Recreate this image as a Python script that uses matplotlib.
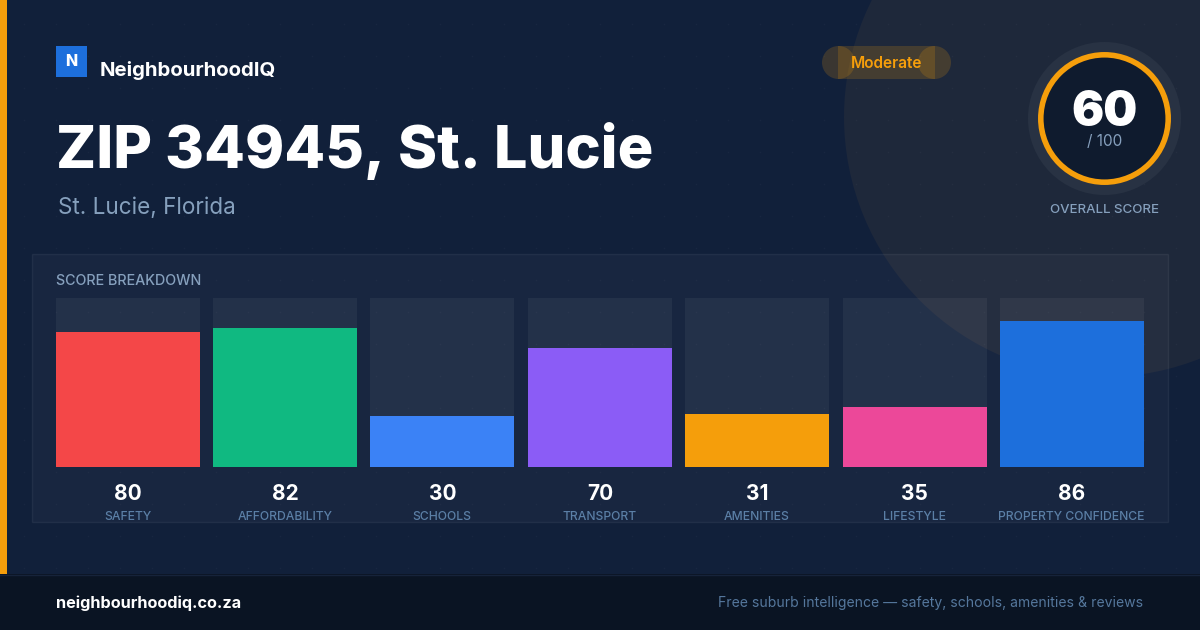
import numpy as np
import matplotlib
matplotlib.use('Agg')
import matplotlib.pyplot as plt
from matplotlib.patches import Circle, Rectangle

categories = ['SAFETY', 'AFFORDABILITY', 'SCHOOLS', 'TRANSPORT', 'AMENITIES', 'LIFESTYLE', 'PROPERTY CONFIDENCE']
scores = [80, 82, 30, 70, 31, 35, 86]
bar_colors = ['#f44748', '#10b981', '#3b82f6', '#8b5cf6', '#f59e0b', '#ec4899', '#1d6fdc']
overall = 60

plt.rcParams['font.family'] = ['Inter', 'DejaVu Sans']

W, H = 1200, 630
muted = '#86a0bd'
fig = plt.figure(figsize=(12, 6.3), dpi=100, facecolor='#11203a')

# pixel canvas, y downwards
bg = fig.add_axes([0, 0, 1, 1])
bg.set_xlim(0, W)
bg.set_ylim(H, 0)
bg.axis('off')

bg.add_patch(Circle((1104, 117), 260, fc='#1e283a', ec='none', zorder=1))

# faint dot grid
gx, gy = np.meshgrid(np.arange(24, W, 32), np.arange(24, H, 32))
bg.scatter(gx.ravel(), gy.ravel(), s=1.5, c='white', alpha=0.03, linewidths=0, zorder=2)

# left stripe and footer
bg.add_patch(Rectangle((0, 0), 7, 574, fc='#f59e0b', ec='none', zorder=3))
bg.add_patch(Rectangle((0, 574), W, 56, fc='#0a1423', ec='none', zorder=3))
bg.plot([0, W], [574.5, 574.5], color='#16233a', lw=1, zorder=4)

# panel
bg.add_patch(Rectangle((32, 254), 1136, 268, fc=(1, 1, 1, 0.03), ec=(1, 1, 1, 0.06), lw=1, zorder=3))

# header
bg.add_patch(Rectangle((56, 46), 31, 31, fc='#1d6fdc', ec='none', zorder=4))
bg.text(71.5, 61, 'N', color='white', fontsize=11.5, fontweight='heavy', ha='center', va='center', zorder=5)
bg.text(100, 70, 'NeighbourhoodIQ', color='white', fontsize=14.65, fontweight='bold', ha='left', va='center', zorder=5)
bg.text(56, 151, 'ZIP 34945, St. Lucie', color='white', fontsize=42.8, fontweight='heavy', ha='left', va='center', zorder=5)
bg.text(58, 208, 'St. Lucie, Florida', color=muted, fontsize=16.2, ha='left', va='center', zorder=5)

# badge, drawn with overlapping translucent parts
badge = (0.96, 0.62, 0.04, 0.18)
bg.add_patch(Circle((838.5, 62.5), 16.5, fc=badge, ec='none', zorder=4))
bg.add_patch(Circle((934.5, 62.5), 16.5, fc=badge, ec='none', zorder=4))
bg.add_patch(Rectangle((838, 46), 97, 33, fc=badge, ec='none', zorder=4))
bg.text(886.5, 63, 'Moderate', color='#f59e0b', fontsize=11.1, fontweight='semibold', ha='center', va='center', zorder=5)

# score ring
bg.add_patch(Circle((1104.5, 118.5), 76.5, fc='#283243', ec='none', zorder=4))
bg.add_patch(Circle((1104.5, 118.5), 63.7, fc='#0f1b2e', ec='#f59e0b', lw=4, zorder=5))
bg.text(1104.5, 113, str(overall), color='white', fontsize=34.5, fontweight='black', ha='center', va='center', zorder=6)
bg.text(1104.5, 142, '/ 100', color=muted, fontsize=11, ha='center', va='center', zorder=6)
bg.text(1104.5, 210, 'OVERALL SCORE', color=muted, fontsize=9.55, fontweight='medium', ha='center', va='center', zorder=6)

bg.text(56, 281, 'SCORE BREAKDOWN', color=muted, fontsize=10.3, fontweight='medium', ha='left', va='center', zorder=6)

# footer text
bg.text(56, 603, 'neighbourhoodiq.co.za', color='white', fontsize=11.7, fontweight='bold', ha='left', va='center', zorder=6)
bg.text(1143, 603, 'Free suburb intelligence \u2014 safety, schools, amenities & reviews', color='#55779c', fontsize=10.09, ha='right', va='center', zorder=6)

# bars on their own axes, 0-100 scale
ax = fig.add_axes([55.825 / W, 1 - 466.55 / H, (1144 - 56) / W, 168.8 / H])
ax.patch.set_alpha(0)
ax.axis('off')
x = np.arange(len(scores))
ax.bar(x, [100] * len(scores), width=0.9152, color='white', alpha=0.05, linewidth=0)
ax.bar(x, scores, width=0.9152, color=bar_colors, linewidth=0)
ax.set_xlim(-0.4575, len(scores) - 1 + 0.4575)
ax.set_ylim(0, 100)

centers = 56 + (x + 0.4575) * (1144 - 56) / (len(scores) - 1 + 0.915)
for cx, s, c in zip(centers, scores, categories):
    bg.text(cx, 493.5, str(s), color='white', fontsize=15, fontweight='bold', ha='center', va='center', zorder=6)
    bg.text(cx - 0.5, 517.5, c, color='#5b7fa6', fontsize=8.75, fontweight='medium', ha='center', va='center', zorder=6)

fig.savefig('out.png', dpi=100, facecolor=fig.get_facecolor())
